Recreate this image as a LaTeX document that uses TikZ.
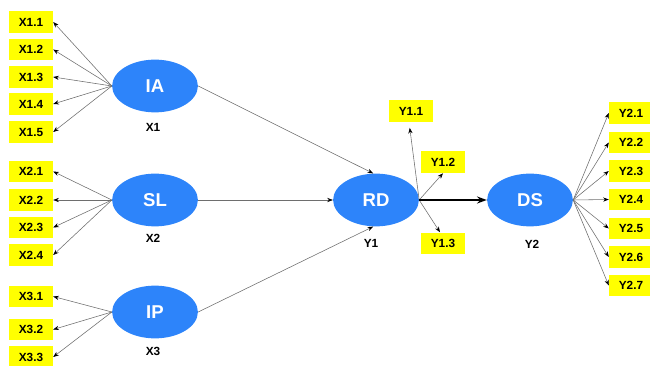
\documentclass[tikz,border=0pt]{standalone}
\usepackage{fontspec}
\setmainfont{Liberation Sans}
\definecolor{bleu}{RGB}{45,132,250}
\definecolor{jaune}{RGB}{255,255,0}
\definecolor{Gris}{RGB}{110,110,110}
\usetikzlibrary{shapes,arrows.meta,calc,positioning}

\begin{document}
\begin{tikzpicture}[x=0.025cm,y=-0.025cm,
    latent/.style={ellipse,fill=bleu,text=white,inner sep=0pt,minimum width=61pt,minimum height=37.5pt,font=\fontsize{13.2}{14}\bfseries},
    ind/.style={fill=jaune,inner sep=0pt,minimum width=31.2pt,minimum height=15.6pt,font=\fontsize{8.4}{9}\bfseries},
    lab/.style={inner sep=0pt,font=\fontsize{8.4}{9}\bfseries},
    load/.style={draw=Gris,line width=0.4pt,-{Stealth[length=4pt,width=3pt,black]}},
    path/.style={draw=Gris,line width=0.4pt,-{Stealth[length=4pt,width=3pt,black]}}]
    \useasboundingbox (0,0) rectangle (650,366);
    % latent variables
    \node[latent] (ia) at (155,86){IA};
    \node[latent] (sl) at (155,200){SL};
    \node[latent] (ip) at (155,312){IP};
    \node[latent] (rd) at (376,200){RD};
    \node[latent] (ds) at (530,200){DS};
    \node[lab] at (153,127){X1};
    \node[lab] at (153,238){X2};
    \node[lab] at (153,351){X3};
    \node[lab] at (371,243){Y1};
    \node[lab] at (532,244){Y2};
    % indicators
    \foreach \i/\y in {1/22,2/49.5,3/77,4/104,5/132}{
      \node[ind] (x1\i) at (31,\y){X1.\i};
      \draw[load] (ia.west) -- (x1\i.east);}
    \foreach \i/\y in {1/171.5,2/200,3/227.5,4/255}{
      \node[ind] (x2\i) at (31,\y){X2.\i};
      \draw[load] (sl.west) -- (x2\i.east);}
    \foreach \i/\y in {1/296.5,2/329.5,3/357}{
      \node[ind] (x3\i) at (31,\y){X3.\i};
      \draw[load] (ip.west) -- (x3\i.east);}
    \node[ind] (y11) at (411,111){Y1.1};
    \node[ind] (y12) at (443,162){Y1.2};
    \node[ind] (y13) at (443,243.5){Y1.3};
    \draw[load,shorten >=4pt] (rd.east) -- ($(y11.south)+(-2,0)$);
    \draw[load] (rd.east) -- (y12.south);
    \draw[load] (rd.east) -- ($(y13.north)+(-3,0)$);
    \foreach \i/\y in {1/113,2/142.5,3/171,4/199.5,5/228.5,6/257,7/285.5}{
      \node[ind] (y2\i) at (631,\y){Y2.\i};
      \draw[load] (ds.east) -- (y2\i.west);}
    % structural paths
    \draw[path] (ia.east) -- (rd.96);
    \draw[path] (sl.east) -- (rd.west);
    \draw[path] (ip.east) -- (rd.264);
    \draw[line width=1.8pt,-{Stealth[length=7pt,width=5pt]}] (rd.east) -- (ds.west);
\end{tikzpicture}
\end{document}
